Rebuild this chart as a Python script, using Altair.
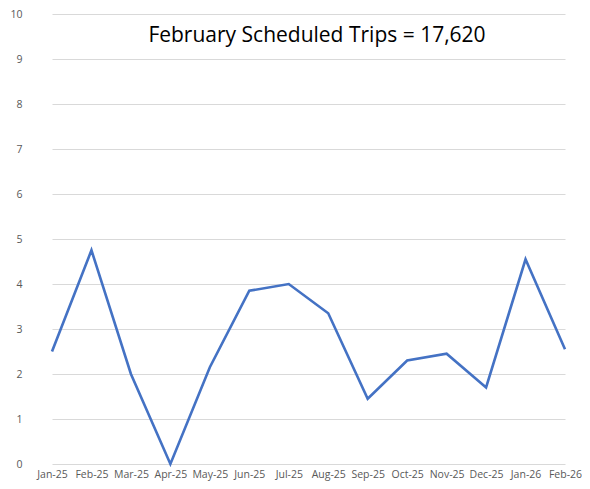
import altair as alt
import pandas as pd

months = ["Jan-25", "Feb-25", "Mar-25", "Apr-25", "May-25", "Jun-25", "Jul-25",
          "Aug-25", "Sep-25", "Oct-25", "Nov-25", "Dec-25", "Jan-26", "Feb-26"]
values = [2.5, 4.75, 2.0, 0.0, 2.15, 3.85, 4.0, 3.35, 1.45, 2.3, 2.45, 1.7, 4.55, 2.55]
title_text = "February Scheduled Trips = 17,620"

df = pd.DataFrame({"month": months, "value": values})

x = alt.X("month:O", sort=months, title=None,
          scale=alt.Scale(type="point", range=[22, 535], padding=0),
          axis=alt.Axis(labelAngle=0, ticks=False, domain=False, grid=False,
                        labelFont="Open Sans", labelFontSize=10.5, labelColor="#595959",
                        labelPadding=5))
y = alt.Y("value:Q", title=None,
          scale=alt.Scale(domain=[0, 10], nice=False, zero=True),
          axis=alt.Axis(values=list(range(0, 11)), ticks=False, domain=False,
                        gridColor="#d9d9d9", gridWidth=1,
                        labelFont="Open Sans", labelFontSize=10.5, labelColor="#595959",
                        labelPadding=8))

line = alt.Chart(df).mark_line(color="#4472C4", strokeWidth=2.6).encode(x=x, y=y)

title = alt.Chart(pd.DataFrame({"t": [title_text]})).mark_text(
    font="Open Sans", fontSize=21, color="#000000", align="center", baseline="alphabetic"
).encode(text="t:N", x=alt.value(287), y=alt.value(28))

chart = alt.layer(line, title).properties(
    width=552, height=450,
    autosize=alt.AutoSizeParams(type="none"),
    padding={"left": 22, "top": 6, "right": 0, "bottom": 17},
).configure_view(stroke=None)

chart.save("out.html", embed_options={"renderer": "svg", "actions": False})
